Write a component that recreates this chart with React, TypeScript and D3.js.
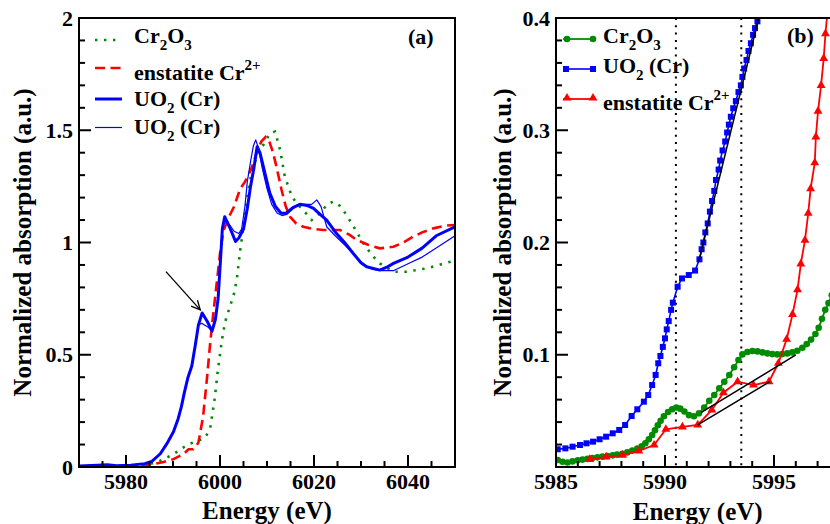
import React from 'react';
import * as d3 from 'd3';

// ---------- panel (a): normalized Cr K-edge spectra ----------
const cr2o3E = [5970, 5977, 5982, 5986.5, 5988, 5990.1, 5992, 5993.6, 5995.7, 5996.8, 5997.9, 5998.9, 5999.6, 6000.4, 6001.1, 6002.1, 6003.0, 6003.6, 6004.2, 6004.6, 6005.7, 6006.7, 6008.15, 6009.2, 6010.6, 6011.7, 6012.8, 6013.8, 6015.3, 6016.5, 6017.7, 6019.5, 6021.3, 6022.8, 6024.1, 6025.2, 6026.2, 6028, 6030.5, 6032.5, 6034, 6036.9, 6039.7, 6044, 6050];
const cr2o3A = [0.0, 0.0, 0.003, 0.02, 0.035, 0.057, 0.085, 0.104, 0.12, 0.13, 0.17, 0.31, 0.44, 0.565, 0.647, 0.714, 0.773, 0.84, 0.95, 1.01, 1.19, 1.31, 1.405, 1.434, 1.486, 1.494, 1.412, 1.293, 1.204, 1.17, 1.145, 1.10, 1.13, 1.17, 1.182, 1.17, 1.145, 1.086, 0.996, 0.94, 0.907, 0.87, 0.87, 0.885, 0.92];

const enstE = [5970, 5980, 5984, 5985.8, 5988, 5990.1, 5992.2, 5993.3, 5994.3, 5995.4, 5996.4, 5997.3, 5997.9, 5998.5, 5999.2, 6000.0, 6000.7, 6001.8, 6003.0, 6004.3, 6005.3, 6006.7, 6007.8, 6008.8, 6009.7, 6010.5, 6011.3, 6012.1, 6013.1, 6014.0, 6014.9, 6016.2, 6017.7, 6020, 6022, 6025.5, 6027.5, 6029.1, 6031.5, 6034, 6036.9, 6039, 6041.1, 6043, 6045.4, 6048, 6050];
const enstA = [0.002, 0.003, 0.005, 0.013, 0.022, 0.035, 0.057, 0.079, 0.079, 0.108, 0.224, 0.41, 0.55, 0.67, 0.8, 0.95, 1.05, 1.11, 1.16, 1.24, 1.27, 1.33, 1.40, 1.45, 1.47, 1.45, 1.40, 1.33, 1.234, 1.16, 1.115, 1.085, 1.07, 1.06, 1.056, 1.056, 1.035, 1.011, 0.99, 0.974, 0.981, 1.0, 1.026, 1.045, 1.063, 1.075, 1.078];

const uo2ThickE = [5970, 5974, 5976, 5978, 5981, 5984, 5985.5, 5987.3, 5988.7, 5990.1, 5991.1, 5991.8, 5992.4, 5993.2, 5994.0, 5994.8, 5995.4, 5996.2, 5997.3, 5998.3, 5999.0, 5999.6, 6000.1, 6000.5, 6001.0, 6002.0, 6003.3, 6004.0, 6005.0, 6005.8, 6006.5, 6007.2, 6007.9, 6008.5, 6009.2, 6010.0, 6010.6, 6011.8, 6013.0, 6014.0, 6015.5, 6017.0, 6018.5, 6019.9, 6021.3, 6022.7, 6024.8, 6026.5, 6028.4, 6030.0, 6031.2, 6034.0, 6035.5, 6036.9, 6040, 6043, 6046, 6050];
const uo2ThickA = [0.005, 0.008, 0.01, 0.006, 0.008, 0.015, 0.025, 0.059, 0.104, 0.157, 0.215, 0.27, 0.33, 0.4, 0.45, 0.55, 0.632, 0.686, 0.648, 0.605, 0.655, 0.75, 0.92, 1.06, 1.115, 1.07, 1.005, 1.02, 1.06, 1.15, 1.25, 1.33, 1.427, 1.40, 1.34, 1.27, 1.22, 1.16, 1.13, 1.13, 1.155, 1.17, 1.165, 1.152, 1.125, 1.10, 1.04, 1.0, 0.95, 0.91, 0.892, 0.877, 0.89, 0.907, 0.935, 0.975, 1.03, 1.07];

const uo2ThinE = [5970, 5974, 5976, 5978, 5981, 5984, 5985.5, 5987.3, 5988.7, 5990.1, 5991.1, 5991.8, 5992.4, 5993.2, 5994.0, 5994.8, 5995.4, 5996.1, 5997.5, 5998.3, 5999.0, 5999.6, 6000.1, 6000.5, 6001.0, 6002.0, 6003.0, 6004.0, 6004.6, 6005.3, 6005.8, 6006.5, 6007.1, 6007.6, 6008.2, 6009.0, 6010.0, 6011.0, 6012.2, 6013.2, 6014.2, 6015.5, 6017.0, 6018.5, 6019.5, 6020.6, 6021.5, 6022.7, 6024.5, 6026.5, 6028.4, 6030.5, 6032.5, 6034.5, 6037, 6040, 6043, 6046, 6050];
const uo2ThinA = [0.005, 0.008, 0.01, 0.006, 0.008, 0.015, 0.025, 0.059, 0.104, 0.157, 0.215, 0.27, 0.33, 0.4, 0.45, 0.55, 0.632, 0.64, 0.622, 0.605, 0.66, 0.76, 0.95, 1.07, 1.10, 1.08, 1.05, 1.04, 1.06, 1.16, 1.27, 1.36, 1.43, 1.457, 1.42, 1.33, 1.24, 1.17, 1.13, 1.12, 1.125, 1.15, 1.17, 1.17, 1.17, 1.19, 1.16, 1.07, 1.03, 0.99, 0.95, 0.9, 0.88, 0.875, 0.875, 0.905, 0.935, 0.975, 1.03];

// ---------- panel (b): pre-edge region ----------
const cr2o3PreE = [5985.08, 5985.3, 5985.53, 5985.76, 5986.0, 5986.22, 5986.45, 5986.67, 5986.9, 5987.13, 5987.36, 5987.6, 5987.8, 5988.04, 5988.27, 5988.5, 5988.73, 5988.93, 5989.1, 5989.26, 5989.41, 5989.54, 5989.67, 5989.8, 5989.95, 5990.14, 5990.33, 5990.52, 5990.7, 5990.89, 5991.1, 5991.33, 5991.56, 5991.8, 5992.03, 5992.26, 5992.49, 5992.72, 5992.95, 5993.17, 5993.37, 5993.55, 5993.78, 5994.01, 5994.24, 5994.47, 5994.7, 5994.92, 5995.15, 5995.38, 5995.61, 5995.84, 5996.07, 5996.3, 5996.5, 5996.7, 5996.9, 5997.05, 5997.2, 5997.35, 5997.5, 5997.65];
const cr2o3PreA = [0.0062, 0.0047, 0.004, 0.005, 0.006, 0.0066, 0.0072, 0.008, 0.0086, 0.0092, 0.0098, 0.0104, 0.011, 0.0118, 0.013, 0.0146, 0.0165, 0.0185, 0.0212, 0.0247, 0.0285, 0.0328, 0.0372, 0.0412, 0.0452, 0.049, 0.0515, 0.053, 0.052, 0.0495, 0.0462, 0.0452, 0.0478, 0.053, 0.059, 0.0641, 0.0701, 0.076, 0.0819, 0.0888, 0.0953, 0.1003, 0.1025, 0.1033, 0.103, 0.1021, 0.1012, 0.1006, 0.1003, 0.1006, 0.1012, 0.1021, 0.1036, 0.1062, 0.1095, 0.1135, 0.1185, 0.124, 0.132, 0.14, 0.146, 0.153];

const uo2PreE = [5985.08, 5985.43, 5985.76, 5986.1, 5986.4, 5986.7, 5987.0, 5987.3, 5987.6, 5987.9, 5988.17, 5988.47, 5988.73, 5989.03, 5989.23, 5989.41, 5989.57, 5989.69, 5989.79, 5989.9, 5990.0, 5990.08, 5990.17, 5990.28, 5990.36, 5990.58, 5990.78, 5991.09, 5991.38, 5991.58, 5991.68, 5991.76, 5991.85, 5991.96, 5992.06, 5992.16, 5992.26, 5992.34, 5992.46, 5992.53, 5992.64, 5992.76, 5992.85, 5992.93, 5993.02, 5993.13, 5993.25, 5993.37, 5993.48, 5993.55, 5993.63, 5993.74, 5993.83, 5993.94, 5994.04, 5994.13, 5994.24];
const uo2PreA = [0.0158, 0.0166, 0.0181, 0.0196, 0.0211, 0.0226, 0.0247, 0.027, 0.03, 0.033, 0.0374, 0.0454, 0.0514, 0.0582, 0.0641, 0.073, 0.082, 0.0924, 0.0989, 0.107, 0.1146, 0.1226, 0.13, 0.14, 0.1464, 0.1606, 0.168, 0.171, 0.175, 0.185, 0.194, 0.2, 0.209, 0.217, 0.2275, 0.237, 0.246, 0.2557, 0.265, 0.273, 0.282, 0.29, 0.298, 0.305, 0.312, 0.3196, 0.326, 0.334, 0.34, 0.3475, 0.355, 0.3626, 0.3706, 0.3775, 0.385, 0.391, 0.397];

const enstPreE = [5986.55, 5987.3, 5988.06, 5988.8, 5989.5, 5990.04, 5990.8, 5991.5, 5992.15, 5992.68, 5993.33, 5994.06, 5994.77, 5995.2, 5995.58, 5995.85, 5996.08, 5996.23, 5996.42, 5996.57, 5996.68, 5996.87, 5996.92, 5997.02, 5997.16, 5997.28, 5997.36, 5997.45];
const enstPreA = [0.0068, 0.009, 0.0105, 0.0143, 0.0196, 0.0336, 0.0357, 0.0375, 0.0508, 0.0662, 0.076, 0.073, 0.076, 0.0924, 0.1138, 0.136, 0.158, 0.181, 0.202, 0.226, 0.248, 0.271, 0.294, 0.317, 0.34, 0.364, 0.386, 0.405];

// guide lines drawn on panel (b), in data units
const edgeMarkers = [5990.5, 5993.5];
const tangentUO2: [number, number][] = [[5991.55, 0.183], [5994.3, 0.4]];
const baselineCr2o3: [number, number][] = [[5991.65, 0.0484], [5996.0, 0.0998]];
const baselineEnst: [number, number][] = [[5991.5, 0.0375], [5994.8, 0.076]];
// arrow on panel (a) pointing to the UO2 pre-peak
const arrowA: [number, number][] = [[5988.5, 0.87], [5995.8, 0.7]];

// ticks
const aXMajor = [5980, 6000, 6020, 6040];
const aYMajor = [0, 0.5, 1, 1.5, 2];
const aYLabels = ['0', '0.5', '1', '1.5', '2'];
const bXMajor = [5985, 5990, 5995];
const bYMajor = [0.1, 0.2, 0.3, 0.4];
const bYLabels = ['0.1', '0.2', '0.3', '0.4'];

const FONT = "'Liberation Serif', 'DejaVu Serif', serif";
const GREEN = '#008b00';
const RED = '#ff0000';
const BLUE = '#0000ff';

const zip = (e: number[], a: number[]): [number, number][] => e.map((v, i) => [v, a[i]]);

// scales
const xa = d3.scaleLinear().domain([5970, 6050]).range([79, 455]);
const ya = d3.scaleLinear().domain([0, 2]).range([467, 18]);
const xb = d3.scaleLinear().domain([5985, 5998]).range([556, 556 + 13 * 21.8]);
const yb = d3.scaleLinear().domain([0, 0.4]).range([467, 18]);

const lineA = d3.line<[number, number]>().x(d => xa(d[0])).y(d => ya(d[1]));
const lineB = d3.line<[number, number]>().x(d => xb(d[0])).y(d => yb(d[1]));

const minorOf = (lo: number, hi: number, step: number, majors: number[]) =>
  d3.range(lo, hi + step / 2, step).filter(v => !majors.some(m => Math.abs(m - v) < step / 10));

const txt = { fontFamily: FONT, fontWeight: 700 } as const;

function Frame({ x, y, xMajor, xMinor, yMajor, yMinor, yLabels }: any) {
  const [x0, x1] = x.range();
  const [y0, y1] = y.range();
  return (
    <g stroke="#000" strokeWidth={2}>
      <rect x={x0} y={y1} width={x1 - x0} height={y0 - y1} fill="none" />
      {xMajor.map((v: number) => <line key={'xm' + v} x1={x(v)} x2={x(v)} y1={y0} y2={y0 - 12} />)}
      {xMinor.map((v: number) => <line key={'xn' + v} x1={x(v)} x2={x(v)} y1={y0} y2={y0 - 6} />)}
      {yMajor.map((v: number) => <line key={'ym' + v} x1={x0} x2={x0 + 12} y1={y(v)} y2={y(v)} />)}
      {yMinor.map((v: number) => <line key={'yn' + v} x1={x0} x2={x0 + 6} y1={y(v)} y2={y(v)} />)}
      <g stroke="none" fill="#000" fontSize={22} style={txt}>
        {xMajor.map((v: number) => (
          <text key={'xl' + v} x={x(v)} y={489} textAnchor="middle" style={txt}>{v}</text>
        ))}
        {yMajor.map((v: number, i: number) => (
          <text key={'yl' + v} x={x0 - 6} y={y(v) + 7.5} textAnchor="end" style={txt}>{yLabels[i]}</text>
        ))}
      </g>
    </g>
  );
}

export default function App() {
  const tri = d3.symbol(d3.symbolTriangle, 34)() as string;
  const arrowAng = Math.atan2(ya(arrowA[1][1]) - ya(arrowA[0][1]), xa(arrowA[1][0]) - xa(arrowA[0][0]));
  const tip = [xa(arrowA[1][0]), ya(arrowA[1][1])];
  const head = [arrowAng + Math.PI - 0.45, arrowAng + Math.PI + 0.45].map(a => [tip[0] + 10 * Math.cos(a), tip[1] + 10 * Math.sin(a)]);

  return (
    <svg width={830} height={524} style={{ position: 'absolute', left: 0, top: 0, display: 'block', background: '#fff', fontFamily: FONT }}>
      <defs>
        <clipPath id="clipA"><rect x={79} y={18} width={376} height={449} /></clipPath>
        <clipPath id="clipB"><rect x={556} y={18} width={13 * 21.8} height={449} /></clipPath>
      </defs>

      {/* ---------- panel (a) ---------- */}
      <g clipPath="url(#clipA)" fill="none">
        <path d={lineA(zip(cr2o3E, cr2o3A)) || ''} stroke={GREEN} strokeWidth={2.6} strokeDasharray="2.4 6.6" strokeLinecap="butt" />
        <path d={lineA(zip(enstE, enstA)) || ''} stroke={RED} strokeWidth={2.6} strokeDasharray="10 5.5" />
        <path d={lineA(zip(uo2ThinE, uo2ThinA)) || ''} stroke={BLUE} strokeWidth={1.2} strokeLinejoin="round" />
        <path d={lineA(zip(uo2ThickE, uo2ThickA)) || ''} stroke={BLUE} strokeWidth={3} strokeLinejoin="round" />
        <path d={lineA(arrowA) || ''} stroke="#000" strokeWidth={1.3} />
        <path d={`M${head[0][0]},${head[0][1]}L${tip[0]},${tip[1]}L${head[1][0]},${head[1][1]}`} stroke="#000" strokeWidth={1.3} />
      </g>
      <Frame x={xa} y={ya} xMajor={aXMajor} xMinor={minorOf(5970, 6050, 5, aXMajor)}
        yMajor={aYMajor} yMinor={minorOf(0, 2, 0.1, aYMajor)} yLabels={aYLabels} />

      {/* legend (a) */}
      <g fontSize={22} fill="#000" style={txt}>
        <line x1={95} x2={122} y1={40} y2={40} stroke={GREEN} strokeWidth={2.6} strokeDasharray="2.4 6.6" />
        <text x={134} y={43} style={txt}>Cr<tspan fontSize={15} dy={7}>2</tspan><tspan dy={-7}>O</tspan><tspan fontSize={15} dy={7}>3</tspan></text>
        <line x1={95} x2={122} y1={68} y2={68} stroke={RED} strokeWidth={2.6} strokeDasharray="10 5.5" />
        <text x={134} y={80} style={txt}>enstatite Cr<tspan fontSize={15} dy={-10}>2+</tspan></text>
        <line x1={95} x2={122} y1={99} y2={99} stroke={BLUE} strokeWidth={3} />
        <text x={134} y={106} style={txt}>UO<tspan fontSize={15} dy={7}>2</tspan><tspan dy={-7}> (Cr)</tspan></text>
        <line x1={95} x2={122} y1={127.5} y2={127.5} stroke={BLUE} strokeWidth={1.2} />
        <text x={134} y={134} style={txt}>UO<tspan fontSize={15} dy={7}>2</tspan><tspan dy={-7}> (Cr)</tspan></text>
        <text x={408} y={44} style={txt}>(a)</text>
      </g>

      <g fontSize={25} fill="#000" textAnchor="middle" style={txt}>
        <text x={267} y={519} style={txt}>Energy (eV)</text>
        <text transform="translate(31,242.5) rotate(-90)" style={txt}>Normalized absorption (a.u.)</text>
        <text x={697.7} y={520} style={txt}>Energy (eV)</text>
        <text transform="translate(511,242.5) rotate(-90)" style={txt}>Normalized absorption (a.u.)</text>
      </g>

      {/* ---------- panel (b) ---------- */}
      <g clipPath="url(#clipB)">
        {edgeMarkers.map(e => (
          <line key={e} x1={xb(e)} x2={xb(e)} y1={18} y2={467} stroke="#000" strokeWidth={2} strokeDasharray="2 5.3" />
        ))}
        <path d={lineB(zip(cr2o3PreE, cr2o3PreA)) || ''} fill="none" stroke={GREEN} strokeWidth={1.8} />
        {cr2o3PreE.map((e, i) => <circle key={'g' + i} cx={xb(e)} cy={yb(cr2o3PreA[i])} r={3.3} fill={GREEN} />)}
        <path d={lineB(zip(uo2PreE, uo2PreA)) || ''} fill="none" stroke={BLUE} strokeWidth={1.6} />
        {uo2PreE.map((e, i) => <rect key={'b' + i} x={xb(e) - 3} y={yb(uo2PreA[i]) - 3} width={6} height={6} fill={BLUE} />)}
        <path d={lineB(zip(enstPreE, enstPreA)) || ''} fill="none" stroke={RED} strokeWidth={1.8} />
        {enstPreE.map((e, i) => <path key={'r' + i} d={tri} transform={`translate(${xb(e)},${yb(enstPreA[i])})`} fill={RED} />)}
        <g stroke="#000" strokeWidth={1.5} fill="none">
          <path d={lineB(tangentUO2) || ''} />
          <path d={lineB(baselineCr2o3) || ''} />
          <path d={lineB(baselineEnst) || ''} />
        </g>
      </g>
      <Frame x={xb} y={yb} xMajor={bXMajor} xMinor={minorOf(5985, 5998, 1, bXMajor)}
        yMajor={bYMajor} yMinor={minorOf(0, 0.4, 0.02, [0, ...bYMajor])} yLabels={bYLabels} />

      {/* legend (b) */}
      <g fontSize={22} fill="#000" style={txt}>
        <line x1={563} x2={595} y1={39} y2={39} stroke={GREEN} strokeWidth={1.8} />
        <circle cx={567} cy={39} r={3.3} fill={GREEN} />
        <circle cx={593} cy={39} r={3.3} fill={GREEN} />
        <text x={603} y={43} style={txt}>Cr<tspan fontSize={15} dy={7}>2</tspan><tspan dy={-7}>O</tspan><tspan fontSize={15} dy={7}>3</tspan></text>
        <line x1={563} x2={595} y1={69} y2={69} stroke={BLUE} strokeWidth={1.6} />
        <rect x={563} y={66} width={6} height={6} fill={BLUE} />
        <rect x={590} y={66} width={6} height={6} fill={BLUE} />
        <text x={603} y={73} style={txt}>UO<tspan fontSize={15} dy={7}>2</tspan><tspan dy={-7}> (Cr)</tspan></text>
        <line x1={563} x2={595} y1={99} y2={99} stroke={RED} strokeWidth={1.8} />
        <path d={tri} transform="translate(567,98)" fill={RED} />
        <path d={tri} transform="translate(593,98)" fill={RED} />
        <text x={603} y={110} style={txt}>enstatite Cr<tspan fontSize={15} dy={-10}>2+</tspan></text>
        <text x={787} y={43} style={txt}>(b)</text>
      </g>
    </svg>
  );
}
